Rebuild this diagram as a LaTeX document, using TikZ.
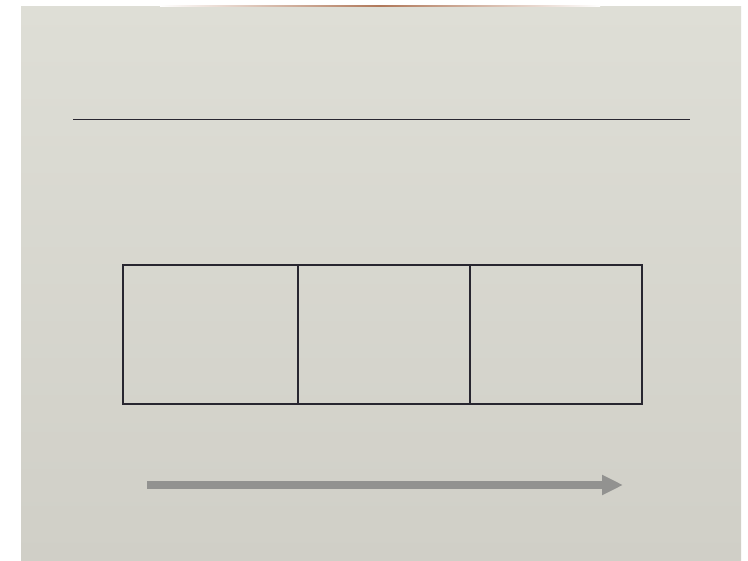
\documentclass[tikz,border=0pt]{standalone}
\usetikzlibrary{arrows.meta}

\definecolor{paper}{RGB}{222,222,214}
\definecolor{paperlow}{RGB}{208,207,199}
\definecolor{paperedge}{RGB}{176,120,90}
\definecolor{ink}{RGB}{40,38,48}
\definecolor{arrowgray}{RGB}{146,146,144}

\tikzset{
    boxline/.style={draw=ink, line width=1.6pt},
    rule/.style={draw=ink, line width=0.8pt},
    bigarrow/.style={draw=arrowgray, line width=7.5pt, -{Triangle[length=21pt, width=19pt]}}
}

\begin{document}
\begin{tikzpicture}[x=1pt, y=-1pt]
    % Sheet of paper on a white ground
    \fill[white] (0,0) rectangle (748,561);
    \shade[top color=paper, bottom color=paperlow] (21,6.5) rectangle (741,561);
    \shade[left color=white, right color=white, middle color=paperedge] (160,5.5) rectangle (600,7);
    \useasboundingbox (0,0) rectangle (748,561);

    % Top rule
    \coordinate (ruleL) at (73,119);
    \coordinate (ruleR) at (690,119);
    \draw[rule] (ruleL) -- (ruleR);

    % Row of three boxes
    \draw[boxline] (123,265) rectangle (642,404);
    \foreach \x in {298, 470} {
        \draw[boxline] (\x,265) -- (\x,404);
    }

    % Arrow pointing right
    \coordinate (arrowS) at (147,485);
    \coordinate (arrowE) at (623,485);
    \draw[bigarrow] (arrowS) -- (arrowE);
\end{tikzpicture}
\end{document}
